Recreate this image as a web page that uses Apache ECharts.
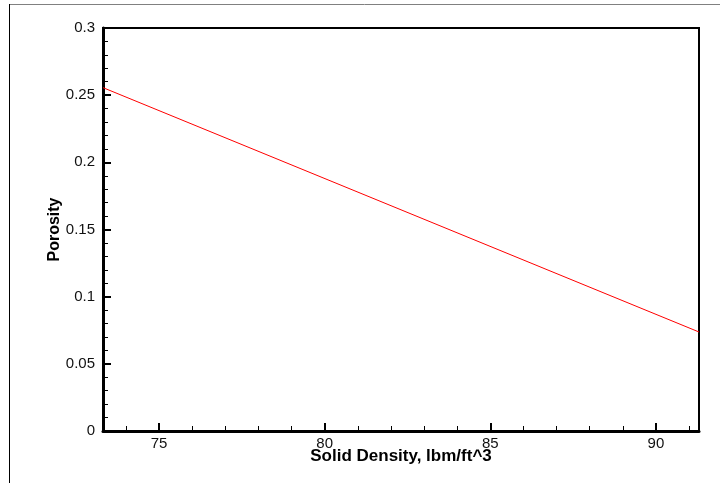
<!DOCTYPE html>
<html><head><meta charset="utf-8">
<script src="https://cdn.jsdelivr.net/npm/echarts@6/dist/echarts.min.js"></script>
<style>html,body{margin:0;padding:0;background:#fff}#c{width:720px;height:483px}</style>
</head><body><div id="c"></div>
<script>
// Data
var solidDensity = [73.31, 91.30];
var porosity = [0.2556, 0.0737];
var xMin = 73.31, xMax = 91.30;
var yMin = 0, yMax = 0.3;
var xMajorTicks = [75, 80, 85, 90];
var xMinorTicks = [74, 76, 77, 78, 79, 81, 82, 83, 84, 86, 87, 88, 89, 91];
var xTitle = 'Solid Density, lbm/ft^3';
var yTitle = 'Porosity';

var chart = echarts.init(document.getElementById('c'));
var font = "'Liberation Sans', Arial, Helvetica, sans-serif";
var pts = solidDensity.map(function(x, i){ return [x, porosity[i]]; });
chart.setOption({
  animation: false,
  backgroundColor: '#fff',
  grid: {left: 103, top: 28, right: 21, bottom: 52, show: true, borderColor: '#000', borderWidth: 2, backgroundColor: 'transparent'},
  graphic: [
    {type: 'line', shape: {x1: 9, y1: 4.5, x2: 720, y2: 4.5}, style: {stroke: '#808080', lineWidth: 1}},
    {type: 'line', shape: {x1: 9.5, y1: 4, x2: 9.5, y2: 483}, style: {stroke: '#000', lineWidth: 1}}
  ],
  xAxis: [
    {type: 'value', min: xMin, max: xMax, position: 'bottom',
     axisLine: {show: true, onZero: false, lineStyle: {color: '#000', width: 3}},
     axisTick: {show: true, inside: true, length: 8, customValues: xMajorTicks, lineStyle: {color: '#000', width: 2}},
     axisLabel: {show: true, customValues: xMajorTicks, color: '#111', fontSize: 15, fontFamily: font, margin: 5},
     splitLine: {show: false},
     name: xTitle, nameLocation: 'middle', nameGap: 17, nameMoveOverlap: false,
     nameTextStyle: {fontSize: 17, fontWeight: 'bold', color: '#000', fontFamily: font, verticalAlign: 'top'}},
    {type: 'value', min: xMin, max: xMax, position: 'bottom', gridIndex: 0,
     axisLine: {show: false},
     axisTick: {show: true, inside: true, length: 5, customValues: xMinorTicks, lineStyle: {color: '#000', width: 1}},
     axisLabel: {show: false}, splitLine: {show: false}}
  ],
  yAxis: {type: 'value', min: yMin, max: yMax, interval: 0.05,
    axisLine: {show: true, onZero: false, lineStyle: {color: '#000', width: 3}},
    axisTick: {show: true, inside: true, length: 8, lineStyle: {color: '#000', width: 2}},
    minorTick: {show: true, splitNumber: 5, length: 5, lineStyle: {color: '#000', width: 1}},
    axisLabel: {color: '#111', fontSize: 15, fontFamily: font, margin: 8,
      formatter: function(v){ return String(+v.toFixed(2)); }},
    splitLine: {show: false}, minorSplitLine: {show: false},
    name: yTitle, nameLocation: 'middle', nameGap: 40, nameRotate: 90, nameMoveOverlap: false,
    nameTextStyle: {fontSize: 16, fontWeight: 'bold', color: '#000', fontFamily: font}},
  series: [{type: 'line', data: pts, xAxisIndex: 0, showSymbol: false, symbol: 'none',
    lineStyle: {color: '#ff0000', width: 1}, z: 1}]
});
</script></body></html>
